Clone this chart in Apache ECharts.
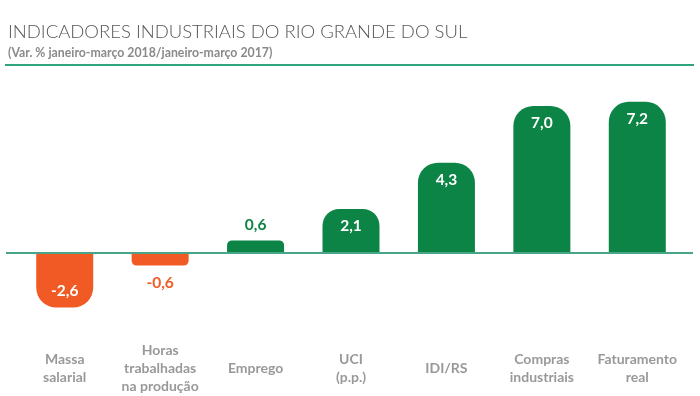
<!DOCTYPE html>
<html lang="pt-BR">
<head>
    <meta charset="UTF-8">
    <title>Indicadores industriais do RS</title>
    <script src="https://cdn.jsdelivr.net/npm/echarts@6/dist/echarts.min.js"></script>
    <style>
        html, body { margin: 0; padding: 0; background: #ffffff; }
        #chart { width: 700px; height: 396px; }
    </style>
</head>
<body>
    <div id="chart"></div>
    <script>
        // dados (var. % jan-mar 2018 / jan-mar 2017)
        const categorias = [
            'Massa\nsalarial',
            'Horas\ntrabalhadas\nna produção',
            'Emprego',
            'UCI\n(p.p.)',
            'IDI/RS',
            'Compras\nindustriais',
            'Faturamento\nreal'
        ];
        const valores = [-2.6, -0.6, 0.6, 2.1, 4.3, 7.0, 7.2];

        const VERDE = '#0b8445';
        const LARANJA = '#f15a24';

        const fmt = v => v.toFixed(1).replace('.', ',');

        const dadosBarra = valores.map(v => {
            const neg = v < 0;
            const r = Math.min(20, Math.abs(v) * 8);
            const pequeno = Math.abs(v) < 1;
            const cor = neg ? LARANJA : VERDE;
            return {
                value: v,
                itemStyle: {
                    color: cor,
                    borderRadius: neg ? [0, 0, r, r] : [r, r, 0, 0]
                },
                label: {
                    position: pequeno ? (neg ? 'bottom' : 'top') : (neg ? 'insideBottom' : 'insideTop'),
                    distance: pequeno ? (neg ? 9 : 7) : 9,
                    color: pequeno ? cor : '#ffffff'
                }
            };
        });

        const chart = echarts.init(document.getElementById('chart'));

        chart.setOption({
            animation: false,
            title: {
                text: 'INDICADORES INDUSTRIAIS DO RIO GRANDE DO SUL',
                subtext: '(Var. % janeiro-março 2018/janeiro-março 2017)',
                left: 3,
                top: 18,
                itemGap: 5,
                textStyle: {
                    fontFamily: 'Lato',
                    fontWeight: 300,
                    fontSize: 18.5,
                    color: '#555555'
                },
                subtextStyle: {
                    fontFamily: 'Lato',
                    fontWeight: 'bold',
                    fontSize: 12.3,
                    color: '#8a8a8a'
                }
            },
            graphic: [{
                type: 'line',
                shape: { x1: 5, y1: 65, x2: 694, y2: 65 },
                style: { stroke: '#2fa47e', lineWidth: 2 }
            }],
            grid: { left: 17, right: 15, top: 85, bottom: 59 },
            xAxis: {
                type: 'category',
                data: categorias,
                axisLine: { show: false, onZero: false },
                axisTick: { show: false },
                axisLabel: {
                    interval: 0,
                    margin: 31,
                    verticalAlign: 'middle',
                    lineHeight: 18,
                    fontFamily: 'Lato',
                    fontWeight: 'bold',
                    fontSize: 14,
                    color: '#999999'
                }
            },
            yAxis: {
                type: 'value',
                min: -4,
                max: 8,
                show: false,
                splitLine: { show: false }
            },
            series: [{
                type: 'bar',
                barWidth: 57,
                data: dadosBarra,
                label: {
                    show: true,
                    fontFamily: 'Lato',
                    fontWeight: 'bold',
                    fontSize: 15.5,
                    formatter: p => fmt(p.value)
                },
                markLine: {
                    silent: true,
                    symbol: 'none',
                    label: { show: false },
                    lineStyle: { color: '#4aa487', width: 2, type: 'solid' },
                    data: [[{ x: 6, yAxis: 0 }, { x: 693, yAxis: 0 }]]
                },
                z: 3
            }]
        });
    </script>
</body>
</html>
